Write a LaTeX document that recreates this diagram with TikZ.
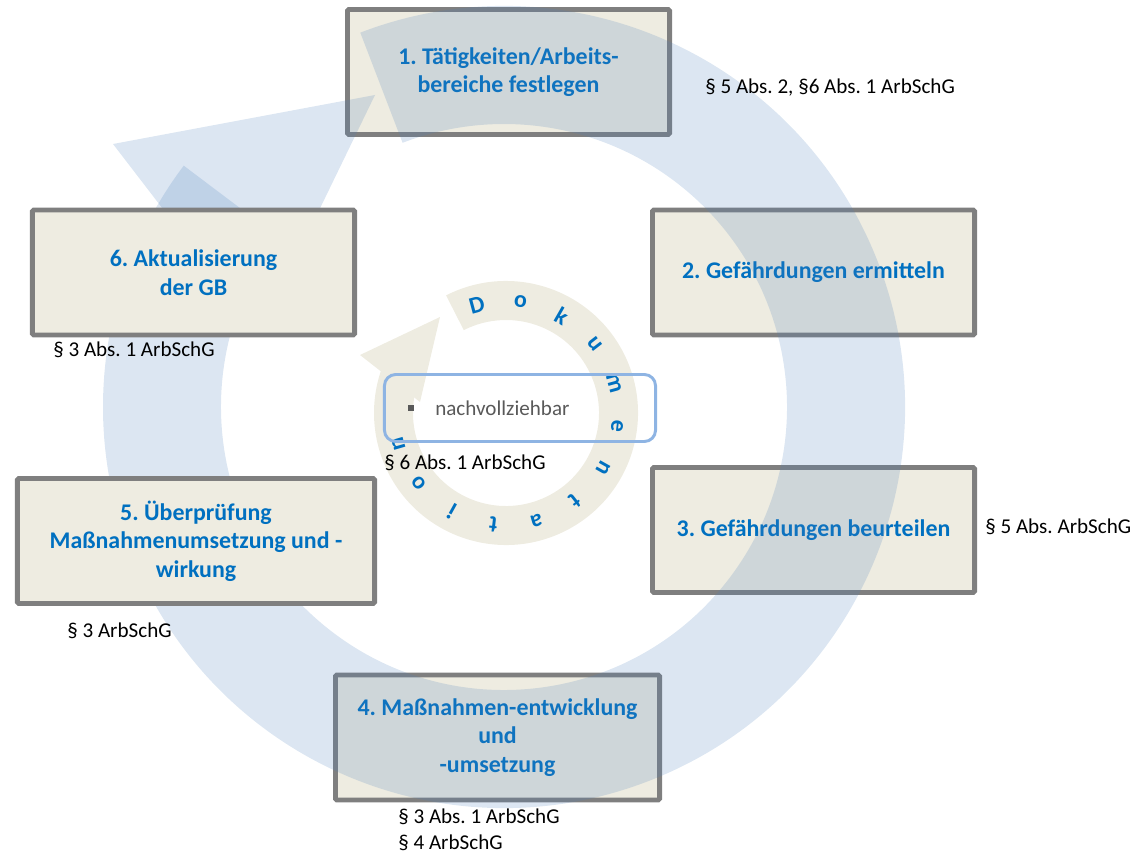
\documentclass[tikz,border=0pt]{standalone}
\usepackage{fontspec}
\setmainfont{Carlito}
\frenchspacing
\usetikzlibrary{positioning}
\definecolor{boxfill}{HTML}{EEECE1}
\definecolor{boxline}{HTML}{7F7F7F}
\definecolor{stepblue}{HTML}{0070C0}
\definecolor{ringblue}{HTML}{4F81BD}
\definecolor{docline}{HTML}{8EB4E3}
\definecolor{bulletgray}{HTML}{595959}
\tikzset{
    stepbox/.style={draw=boxline, fill=boxfill, line width=3.5pt, rounded corners=1pt,
        text=stepblue, font=\bfseries\fontsize{17}{20.4}\selectfont, align=center,
        inner sep=0pt, minimum width=8.05cm, minimum height=3.125cm},
    lawtext/.style={font=\fontsize{15}{18}\selectfont, inner sep=0pt, anchor=west},
    bigarrow/.style={fill=ringblue, fill opacity=0.2},
    docletter/.style={text=stepblue, font=\bfseries\fontsize{17}{20}\selectfont, inner sep=0pt}
}

\begin{document}
\begin{tikzpicture}[x=0.025cm, y=-0.025cm]
    % Definitions
    \useasboundingbox (0,0) rectangle (1136,853);
    \coordinate (bigc) at (504,407);
    \coordinate (smallc) at (506,413);
    \def \bigout{401}
    \def \bigin{283}
    \def \smallout{132}
    \def \smallin{93}
    %%%
    %%% Steps under the big arrow
    %%%
    \node[stepbox] (step1) at (508.5,72) {1. Tätigkeiten/Arbeits-\\bereiche festlegen};
    \node[stepbox] (step2) at (813.5,272.5) {2. Gefährdungen ermitteln};
    \node[stepbox] (step3) at (813.5,530) {3. Gefährdungen beurteilen};
    \node[stepbox, minimum width=8.1cm] (step4) at (497.5,737.5) {4. Maßnahmen-entwicklung\\und\\-umsetzung};
    % Big circular arrow
    \fill[bigarrow] ([shift={(bigc)}]-111:\bigout) arc[start angle=-111, end angle=217, radius=\bigout]
        -- ([shift={(bigc)}]217:\bigin) arc[start angle=217, end angle=-111, radius=\bigin] -- cycle;
    \fill[bigarrow] (113,144) -- (375,95) -- (259,334) -- cycle;
    %%%
    %%% Steps above the big arrow
    %%%
    \node[stepbox, minimum width=8.925cm] (step5) at (196,541) {5. Überprüfung\\Maßnahmenumsetzung und -\\wirkung};
    \node[stepbox] (step6) at (193.5,272.5) {6. Aktualisierung\\der GB};
    %%%
    %%% Documentation
    %%%
    % Small circular arrow
    \fill[boxfill] ([shift={(smallc)}]-117:\smallout) arc[start angle=-117, end angle=202, radius=\smallout]
        -- ([shift={(smallc)}]202:\smallin) arc[start angle=202, end angle=-117, radius=\smallin] -- cycle;
    \fill[boxfill] (360,355) -- (440,317) -- (420,402) -- cycle;
    % Letters round the small arrow
    \foreach \ch [count=\i from 0] in {D,o,k,u,m,e,n,t,a,t,i,o,n}
    {
        \pgfmathsetmacro\imgang{-105+22.4*\i}
        \pgfmathsetmacro\tilt{15-22.4*\i}
        \node[docletter, rotate=\tilt] (letter\i) at ([shift={(smallc)}]\imgang:112) {\ch};
    }
    % Text box
    \node[draw=docline, line width=2.1pt, rounded corners=8pt, minimum width=6.775cm, minimum height=1.675cm] (docbox) at (520,408) {};
    \fill[bulletgray] (408,405) rectangle (414,411);
    \node[lawtext, text=bulletgray] (traceable) at (435,408) {nachvollziehbar};
    %%%
    %%% Laws
    %%%
    \node[lawtext] (law1) at (705,88) {§ 5 Abs. 2, §6 Abs. 1 ArbSchG};
    \node[lawtext] (law3) at (985,527) {§ 5 Abs. ArbSchG};
    \node[lawtext] (law4a) at (398,817) {§ 3 Abs. 1 ArbSchG};
    \node[lawtext] (law4b) at (398,843) {§ 4 ArbSchG};
    \node[lawtext] (law5) at (67,631) {§ 3 ArbSchG};
    \node[lawtext] (law6) at (53,350) {§ 3 Abs. 1 ArbSchG};
    \node[lawtext] (lawdoc) at (384,463) {§ 6 Abs. 1 ArbSchG};
\end{tikzpicture}
\end{document}
